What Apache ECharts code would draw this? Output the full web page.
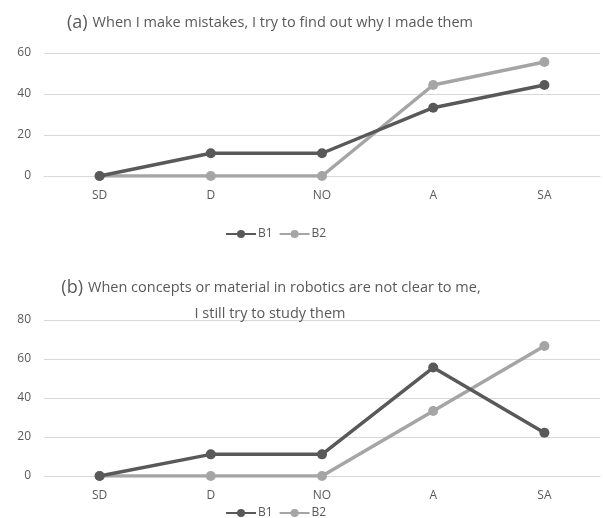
<!DOCTYPE html>
<html>
<head>
<meta charset="utf-8">
<script src="https://cdn.jsdelivr.net/npm/echarts@6/dist/echarts.min.js"></script>
<style>
  html, body { margin: 0; padding: 0; background: #fff; }
  #chart { width: 603px; height: 518px; }
</style>
</head>
<body>
<div id="chart"></div>
<script>
// answer categories, shared by both panels
const categories = ['SD', 'D', 'NO', 'A', 'SA'];

// panel (a): When I make mistakes...
const aB1 = [0, 11.1, 11.1, 33.3, 44.4];
const aB2 = [0, 0, 0, 44.4, 55.6];

// panel (b): When concepts or material...
const bB1 = [0, 11.1, 11.1, 55.6, 22.2];
const bB2 = [0, 0, 0, 33.3, 66.7];

const FONT = '"Open Sans", "Noto Sans", sans-serif';
const DARK = '#595959';
const LIGHT = '#a5a5a5';

const chart = echarts.init(document.getElementById('chart'));

const titleRich = {
  a: { fontSize: 18, color: DARK, fontFamily: FONT, fontWeight: 'normal' },
  t: { fontSize: 14.5, color: DARK, fontFamily: FONT, fontWeight: 'normal' }
};

function xAxis(idx) {
  return {
    type: 'category', gridIndex: idx, data: categories, boundaryGap: true,
    axisLine: { show: true, lineStyle: { color: '#d9d9d9', width: 1 } },
    axisTick: { show: false },
    axisLabel: { color: DARK, fontSize: 12, fontFamily: FONT, margin: 14 }
  };
}
function yAxis(idx, max) {
  return {
    type: 'value', gridIndex: idx, min: 0, max: max, interval: 20,
    axisLine: { show: false }, axisTick: { show: false },
    axisLabel: { color: DARK, fontSize: 12, fontFamily: FONT, margin: 13 },
    splitLine: { lineStyle: { color: '#d9d9d9', width: 1 } }
  };
}
function line(name, data, color, idx) {
  return {
    name: name, type: 'line', data: data,
    xAxisIndex: idx, yAxisIndex: idx,
    symbol: 'circle', symbolSize: 10,
    lineStyle: { color: color, width: 3.5 },
    itemStyle: { color: color },
    z: name === 'B1' ? 3 : 2
  };
}
const legendStyle = {
  data: ['B1', 'B2'], left: 220,
  itemWidth: 30, itemHeight: 10, itemGap: 6,
  textStyle: { color: DARK, fontSize: 12, fontFamily: FONT, padding: [0, 0, 0, -3] }
};

const option = {
  animation: false,
  title: [
    {
      text: '{a|(a)} {t|When I make mistakes, I try to find out why I made them}',
      left: 265, top: 9, textAlign: 'center',
      textStyle: { rich: titleRich }
    },
    {
      text: '{a|(b)} {t|When concepts or material in robotics are not clear to me,}',
      left: 266, top: 274, textAlign: 'center',
      textStyle: { rich: titleRich }
    },
    {
      text: '{t|I still try to study them}',
      left: 265, top: 301, textAlign: 'center',
      textStyle: { rich: titleRich }
    }
  ],
  legend: [
    Object.assign({ top: 223 }, legendStyle),
    Object.assign({ top: 502 }, legendStyle)
  ],
  grid: [
    { left: 44, right: 3, top: 53, height: 123 },
    { left: 44, right: 3, top: 320, height: 156 }
  ],
  xAxis: [xAxis(0), xAxis(1)],
  yAxis: [yAxis(0, 60), yAxis(1, 80)],
  series: [
    line('B1', aB1, DARK, 0),
    line('B2', aB2, LIGHT, 0),
    line('B1', bB1, DARK, 1),
    line('B2', bB2, LIGHT, 1)
  ]
};

chart.setOption(option);
</script>
</body>
</html>
